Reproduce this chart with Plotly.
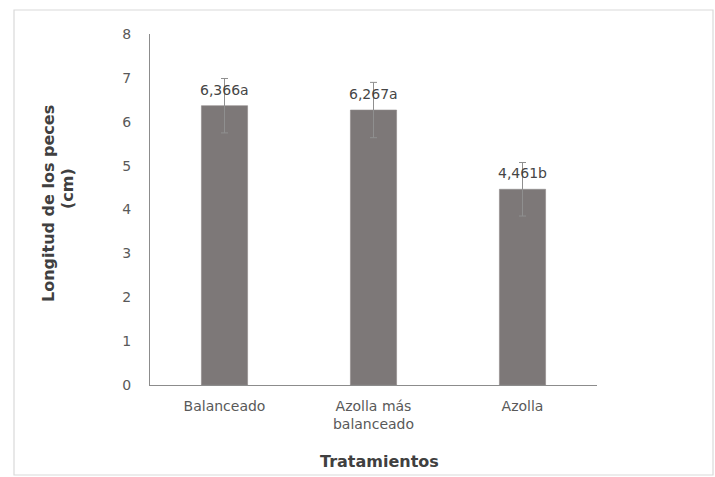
import plotly.graph_objects as go

# Treatments, mean fish length (cm), standard error and significance letters
tratamientos = ["Balanceado", "Azolla más<br>balanceado", "Azolla"]
longitud = [6.366, 6.267, 4.461]
error = [0.62, 0.63, 0.61]
letras = ["a", "a", "b"]

etiquetas = [f"{v:.3f}".replace(".", ",") + l for v, l in zip(longitud, letras)]

W, H = 715, 477
L, R, T, B = 150, 118, 34, 92
pw, ph = W - L - R, H - T - B

FONT = "DejaVu Sans, Verdana, sans-serif"

fig = go.Figure()
fig.add_trace(go.Bar(
    x=tratamientos,
    y=longitud,
    width=0.31,
    marker=dict(color="#7d7878", line=dict(color="#8e8a8a", width=0.6)),
    error_y=dict(type="data", array=error, visible=True,
                 color="#8f8f8f", thickness=1, width=3.5),
    showlegend=False,
))

# value labels above each bar
for cat, v, txt in zip(tratamientos, longitud, etiquetas):
    fig.add_annotation(x=cat, y=v, text=txt, showarrow=False,
                       yanchor="middle", yshift=16,
                       font=dict(family=FONT, size=14, color="#454545"))

# y-axis title, two lines placed individually
for px, py, line in [(48, 204, "Longitud de los peces"), (67, 189, "(cm)")]:
    fig.add_annotation(xref="paper", yref="paper",
                       x=(px - L) / pw, y=(H - B - py) / ph,
                       text=f"<b>{line}</b>",
                       textangle=-90, showarrow=False,
                       xanchor="center", yanchor="middle",
                       font=dict(family=FONT, size=16, color="#404040"))

fig.add_annotation(xref="paper", yref="paper",
                   x=(379 - L) / pw, y=(H - B - 461) / ph,
                   text="<b>Tratamientos</b>", showarrow=False,
                   xanchor="center", yanchor="middle",
                   font=dict(family=FONT, size=16, color="#404040"))

# chart-area border
fig.add_shape(type="rect", xref="paper", yref="paper",
              x0=(14 - L) / pw, x1=(713 - L) / pw,
              y0=(H - B - 475) / ph, y1=(H - B - 10) / ph,
              line=dict(color="#d9d9d9", width=1.2), layer="below")

fig.update_layout(
    width=W, height=H,
    margin=dict(l=L, r=R, t=T, b=B, pad=0),
    paper_bgcolor="white", plot_bgcolor="white",
    font=dict(family=FONT, size=14, color="#595959"),
    bargap=0.69,
)
fig.update_xaxes(
    showline=True, linecolor="#8c8c8c", linewidth=1.3,
    ticks="outside", ticklen=8, tickcolor="rgba(0,0,0,0)",
    tickfont=dict(family=FONT, size=14, color="#595959"),
    showgrid=False, zeroline=False,
)
fig.update_yaxes(
    range=[0, 8], dtick=1,
    showline=True, linecolor="#8c8c8c", linewidth=1.3,
    ticks="outside", ticklen=15, tickcolor="rgba(0,0,0,0)",
    tickfont=dict(family=FONT, size=14, color="#595959"),
    showgrid=False, zeroline=False,
)

fig.write_html("out.html")
